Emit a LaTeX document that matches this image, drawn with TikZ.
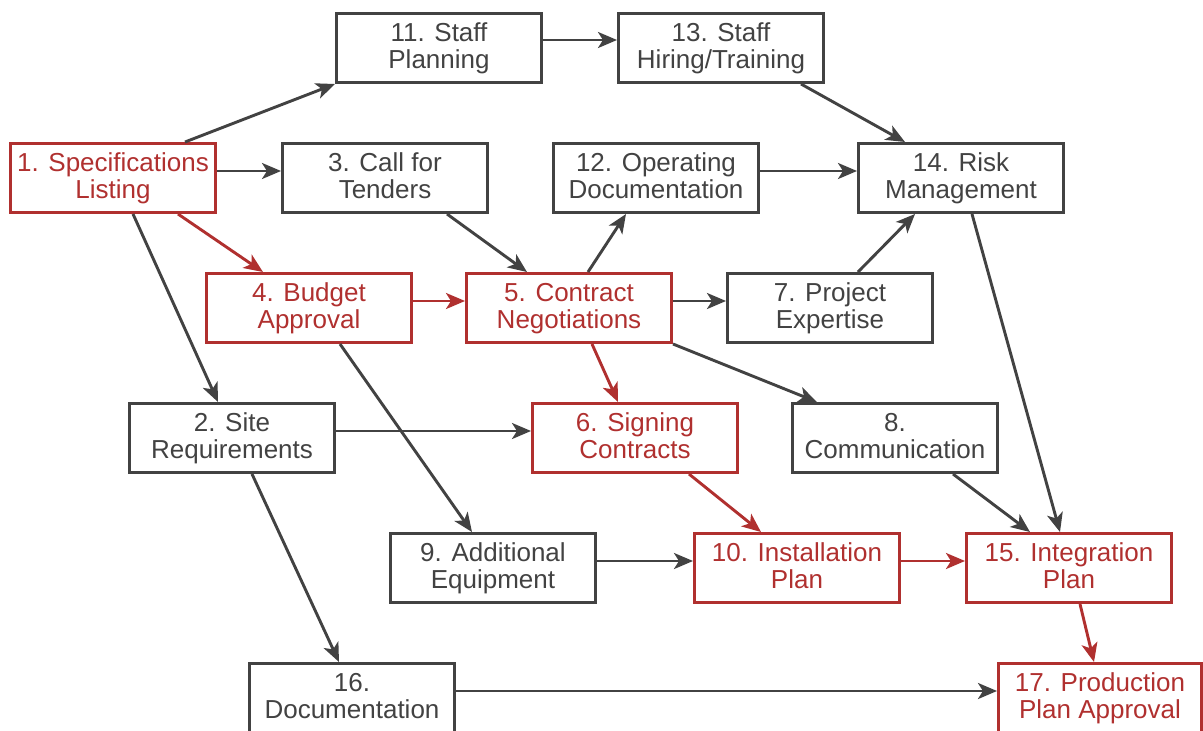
\documentclass[tikz,border=0pt]{standalone}
\usepackage{fontspec}
\setmainfont{Liberation Sans}
\usetikzlibrary{arrows.meta,calc}
\definecolor{dgray}{HTML}{424242}
\definecolor{dred}{HTML}{B0302F}
\newcommand{\lph}{\vphantom{lg}}
\begin{document}
\begin{tikzpicture}[x=1pt,y=-1pt,
  box/.style={draw=dgray,line width=3pt,minimum width=205pt,minimum height=69pt,inner sep=0pt,align=center,text=dgray,font=\fontsize{26}{27}\selectfont},
  rbox/.style={box,draw=dred,text=dred},
  conn/.style={draw=dgray,line width=2.9pt,-{Stealth[length=19pt,width=16pt,inset=5pt]}},
  rconn/.style={conn,draw=dred}]
\useasboundingbox (0,0) rectangle (1203,731);
% nodes
\node[rbox] (n1) at (113,178) {\lph 1. Specifications\\\lph Listing};
\node[box] (n11) at (439,48) {\lph 11. Staff\\\lph Planning};
\node[box] (n13) at (721,48) {\lph 13. Staff\\\lph Hiring/Training};
\node[box] (n3) at (385,178) {\lph 3. Call for\\\lph Tenders};
\node[box] (n12) at (656,178) {\lph 12. Operating\\\lph Documentation};
\node[box] (n14) at (961,178) {\lph 14. Risk\\\lph Management};
\node[rbox] (n4) at (309,308) {\lph 4. Budget\\\lph Approval};
\node[rbox] (n5) at (569,308) {\lph 5. Contract\\\lph Negotiations};
\node[box] (n7) at (830,308) {\lph 7. Project\\\lph Expertise};
\node[box] (n2) at (232,438) {\lph 2. Site\\\lph Requirements};
\node[rbox] (n6) at (635,438) {\lph 6. Signing\\\lph Contracts};
\node[box] (n8) at (895,438) {\lph 8.\\\lph Communication};
\node[box] (n9) at (493,568) {\lph 9. Additional\\\lph Equipment};
\node[rbox] (n10) at (797,568) {\lph 10. Installation\\\lph Plan};
\node[rbox] (n15) at (1069,568) {\lph 15. Integration\\\lph Plan};
\node[box] (n16) at (352,698) {\lph 16.\\\lph Documentation};
\node[rbox,minimum width=203pt] (n17) at (1100,698) {\lph 17. Production\\\lph Plan Approval};
% connectors
\draw[conn] ($(n1.north)+(72,0)$) -- (n11.south west);
\draw[conn] ([yshift=7pt]n1.east) -- ([yshift=7pt]n3.west);
\draw[rconn] ($(n1.south)+(65,0)$) -- ($(n4.north)+(-46,0)$);
\draw[conn] ($(n1.south)+(20,0)$) -- ($(n2.north)+(-14,0)$);
\draw[conn] ([yshift=8pt]n11.east) -- ([yshift=8pt]n13.west);
\draw[conn] ($(n3.south)+(62,0)$) -- ($(n5.north)+(-42,0)$);
\draw[conn] ($(n5.north)+(19,0)$) -- ($(n12.south)+(-30,0)$);
\draw[conn] ([yshift=7pt]n12.east) -- ([yshift=7pt]n14.west);
\draw[conn] ($(n13.south)+(80,0)$) -- ($(n14.north)+(-56,0)$);
\draw[conn] ($(n7.north)+(28,0)$) -- ($(n14.south)+(-46,0)$);
\draw[conn] ($(n14.south)+(11,0)$) -- ($(n15.north)+(-9,0)$);
\draw[rconn] ([yshift=7pt]n4.east) -- ([yshift=7pt]n5.west);
\draw[conn] ([yshift=7pt]n5.east) -- ([yshift=7pt]n7.west);
\draw[conn] (n5.south east) -- ($(n8.north)+(-78,0)$);
\draw[rconn] ($(n5.south)+(23,0)$) -- ($(n6.north)+(-17,0)$);
\draw[conn] ($(n4.south)+(31,0)$) -- ($(n9.north)+(-21,0)$);
\draw[conn] ([yshift=7pt]n2.east) -- ([yshift=7pt]n6.west);
\draw[conn] ($(n2.south)+(20,0)$) -- ($(n16.north)+(-13,0)$);
\draw[rconn] ($(n6.south)+(54,0)$) -- ($(n10.north)+(-36,0)$);
\draw[conn] ($(n8.south)+(58,0)$) -- ($(n15.north)+(-39,0)$);
\draw[conn] ([yshift=7pt]n9.east) -- ([yshift=7pt]n10.west);
\draw[rconn] ([yshift=7pt]n10.east) -- ([yshift=7pt]n15.west);
\draw[rconn] ($(n15.south)+(11,0)$) -- ($(n17.north)+(-6,0)$);
\draw[conn] ([yshift=7pt]n16.east) -- ([yshift=7pt]n17.west);
\end{tikzpicture}
\end{document}
